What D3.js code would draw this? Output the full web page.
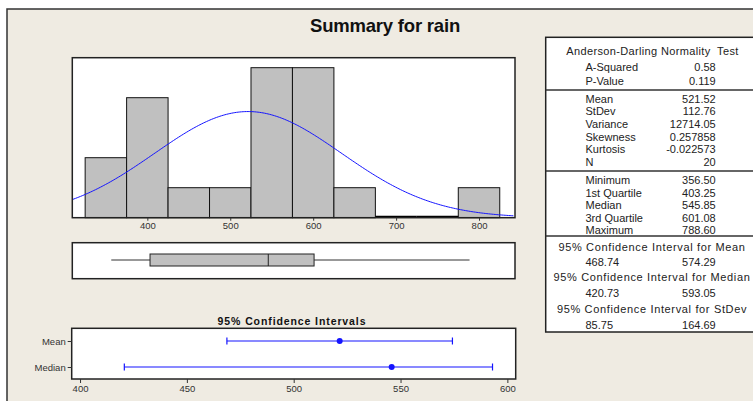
<!DOCTYPE html>
<html><head><meta charset="utf-8">
<script src="https://cdn.jsdelivr.net/npm/d3@7"></script>
<style>
html,body{margin:0;padding:0;background:#fff;}
svg{display:block;font-family:"Liberation Sans",Arial,sans-serif;}
</style></head>
<body>
<svg id="c" width="753" height="401"></svg>
<script>
// ---------- data ----------
const binEdges = [325, 375, 425, 475, 525, 575, 625, 675, 725, 775, 825];
const binCounts = [2, 4, 1, 1, 5, 5, 1, 0, 0, 1];
const histTicks = [400, 500, 600, 700, 800];
const sampleN = 20;
const sampleMean = 521.52;
const sampleStDev = 112.76;
const fiveNum = {min: 356.50, q1: 403.25, median: 545.85, q3: 601.08, max: 788.60};
const ciRows = ["Mean", "Median"];
const ciCenters = [521.52, 545.85];
const ciLower = [468.74, 420.73];
const ciUpper = [574.29, 593.05];
const ciTicks = [400, 450, 500, 550, 600];
const adLabels = ["A-Squared", "P-Value"];
const adValues = ["0.58", "0.119"];
const momentLabels = ["Mean", "StDev", "Variance", "Skewness", "Kurtosis", "N"];
const momentValues = ["521.52", "112.76", "12714.05", "0.257858", "-0.022573", "20"];
const quantLabels = ["Minimum", "1st Quartile", "Median", "3rd Quartile", "Maximum"];
const quantValues = ["356.50", "403.25", "545.85", "601.08", "788.60"];
const ciTitles = ["95% Confidence Interval for Mean", "95% Confidence Interval for Median", "95% Confidence Interval for StDev"];
const ciTableLo = ["468.74", "420.73", "85.75"];
const ciTableHi = ["574.29", "593.05", "164.69"];

// ---------- drawing ----------
const svg = d3.select("#c");
const BG = "#EFEBE2", BAR = "#C0C0C0", BLUE = "#1515FF", TXT = "#222";

svg.append("rect").attr("x", 7).attr("y", 9).attr("width", 800).attr("height", 450)
  .attr("fill", BG).attr("stroke", "#333").attr("stroke-width", 1.5);

svg.append("text").attr("x", 385).attr("y", 32).attr("text-anchor", "middle")
  .attr("font-size", 18.5).attr("font-weight", "bold").attr("fill", "#111")
  .attr("letter-spacing", -0.2).text("Summary for rain");

// Histogram
const H = {l: 72.3, r: 515, t: 57.7, b: 217.7};
const x = d3.scaleLinear().domain([309.5, 843.4]).range([H.l, H.r]);
const y = d3.scaleLinear().domain([0, 5.333]).range([H.b, H.t]);

svg.append("rect").attr("x", H.l).attr("y", H.t).attr("width", H.r - H.l).attr("height", H.b - H.t)
  .attr("fill", "#fff");

const bins = binCounts.map((c, i) => ({x0: binEdges[i], x1: binEdges[i + 1], c}));
svg.append("g").selectAll("rect").data(bins.filter(d => d.c > 0)).join("rect")
  .attr("x", d => x(d.x0)).attr("y", d => y(d.c))
  .attr("width", d => x(d.x1) - x(d.x0)).attr("height", d => y(0) - y(d.c))
  .attr("fill", BAR).attr("stroke", "#111").attr("stroke-width", 1);
svg.append("g").selectAll("line").data(bins.filter(d => d.c === 0)).join("line")
  .attr("x1", d => x(d.x0)).attr("x2", d => x(d.x1)).attr("y1", y(0) - 1).attr("y2", y(0) - 1)
  .attr("stroke", "#000").attr("stroke-width", 2);

// fitted normal curve from sample mean / stdev
const binW = binEdges[1] - binEdges[0];
const dens = v => sampleN * binW * Math.exp(-0.5 * ((v - sampleMean) / sampleStDev) ** 2) / (sampleStDev * Math.sqrt(2 * Math.PI));
const xs = d3.range(x.domain()[0], x.domain()[1] + 0.01, 2);
svg.append("path").datum(xs)
  .attr("d", d3.line().x(v => x(v)).y(v => y(dens(v))))
  .attr("fill", "none").attr("stroke", BLUE).attr("stroke-width", 1);

svg.append("rect").attr("x", H.l).attr("y", H.t).attr("width", H.r - H.l).attr("height", H.b - H.t)
  .attr("fill", "none").attr("stroke", "#222").attr("stroke-width", 1.5);

const ax = svg.append("g").attr("transform", `translate(0,${H.b})`)
  .call(d3.axisBottom(x).tickValues(histTicks).tickSize(3).tickSizeOuter(0).tickPadding(2));
ax.select(".domain").remove();
ax.selectAll("line").attr("stroke", "#333");
ax.selectAll("text").attr("font-size", 9.5).attr("fill", "#333").attr("font-family", "Liberation Sans, Arial");

// Boxplot
const B = {t: 242.7, b: 278.7, bt: 254, bb: 266};
svg.append("rect").attr("x", H.l).attr("y", B.t).attr("width", H.r - H.l).attr("height", B.b - B.t)
  .attr("fill", "#fff").attr("stroke", "#222").attr("stroke-width", 1.5);
const bc = (B.bt + B.bb) / 2;
svg.append("line").attr("x1", x(fiveNum.min)).attr("x2", x(fiveNum.q1)).attr("y1", bc).attr("y2", bc).attr("stroke", "#333");
svg.append("line").attr("x1", x(fiveNum.q3)).attr("x2", x(fiveNum.max)).attr("y1", bc).attr("y2", bc).attr("stroke", "#333");
svg.append("rect").attr("x", x(fiveNum.q1)).attr("y", B.bt).attr("width", x(fiveNum.q3) - x(fiveNum.q1))
  .attr("height", B.bb - B.bt).attr("fill", BAR).attr("stroke", "#222").attr("stroke-width", 1);
svg.append("line").attr("x1", x(fiveNum.median)).attr("x2", x(fiveNum.median)).attr("y1", B.bt).attr("y2", B.bb)
  .attr("stroke", "#222").attr("stroke-width", 1);

// CI panel
const C = {l: 71.7, r: 515.7, t: 328.3, b: 379};
const cx = d3.scaleLinear().domain([396.1, 603.9]).range([C.l, C.r]);
const cy = d3.scalePoint().domain(ciRows).range([341, 367]);
svg.append("text").attr("x", 292).attr("y", 324.5).attr("text-anchor", "middle")
  .attr("font-size", 10.5).attr("font-weight", "bold").attr("letter-spacing", 0.9).attr("fill", "#111")
  .text("95% Confidence Intervals");
svg.append("rect").attr("x", C.l).attr("y", C.t).attr("width", C.r - C.l).attr("height", C.b - C.t)
  .attr("fill", "#fff").attr("stroke", "#222").attr("stroke-width", 1.5);
const cax = svg.append("g").attr("transform", `translate(0,${C.b})`)
  .call(d3.axisBottom(cx).tickValues(ciTicks).tickSize(4).tickSizeOuter(0).tickPadding(2));
cax.select(".domain").remove();
cax.selectAll("line").attr("stroke", "#333");
cax.selectAll("text").attr("font-size", 9.5).attr("fill", "#333").attr("font-family", "Liberation Sans, Arial");
const cay = svg.append("g").attr("transform", `translate(${C.l},0)`)
  .call(d3.axisLeft(cy).tickSize(4).tickSizeOuter(0).tickPadding(2));
cay.select(".domain").remove();
cay.selectAll("line").attr("stroke", "#333");
cay.selectAll("text").attr("font-size", 9.5).attr("fill", "#333").attr("font-family", "Liberation Sans, Arial");

const ci = ciRows.map((r, i) => ({r, c: ciCenters[i], lo: ciLower[i], hi: ciUpper[i]}));
const cg = svg.append("g").selectAll("g").data(ci).join("g");
cg.append("line").attr("x1", d => cx(d.lo)).attr("x2", d => cx(d.hi)).attr("y1", d => cy(d.r)).attr("y2", d => cy(d.r))
  .attr("stroke", BLUE).attr("stroke-width", 1.2);
cg.append("line").attr("x1", d => cx(d.lo)).attr("x2", d => cx(d.lo)).attr("y1", d => cy(d.r) - 3.5).attr("y2", d => cy(d.r) + 3.5)
  .attr("stroke", BLUE).attr("stroke-width", 1.2);
cg.append("line").attr("x1", d => cx(d.hi)).attr("x2", d => cx(d.hi)).attr("y1", d => cy(d.r) - 3.5).attr("y2", d => cy(d.r) + 3.5)
  .attr("stroke", BLUE).attr("stroke-width", 1.2);
cg.append("circle").attr("cx", d => cx(d.c)).attr("cy", d => cy(d.r)).attr("r", 3).attr("fill", BLUE);

// Stats panel
const P = {l: 545.7, t: 37.3, b: 332};
svg.append("rect").attr("x", P.l).attr("y", P.t).attr("width", 300).attr("height", P.b - P.t)
  .attr("fill", "#fff").attr("stroke", "#222").attr("stroke-width", 1.5);
const sepY = [90, 171, 236];
svg.append("g").selectAll("line").data(sepY).join("line")
  .attr("x1", P.l).attr("x2", 760).attr("y1", d => d).attr("y2", d => d)
  .attr("stroke", "#333").attr("stroke-width", 1.5);

const FS = 11;
const labX = 585.5, valX = 715.7;
const tg = svg.append("g").attr("font-size", FS).attr("fill", TXT);
tg.append("text").attr("x", 652.5).attr("y", 54.5).attr("text-anchor", "middle").attr("letter-spacing", 0.35)
  .attr("xml:space", "preserve").text("Anderson-Darling Normality  Test");
function rows(labels, values, ys) {
  labels.forEach((l, i) => {
    tg.append("text").attr("x", labX).attr("y", ys[i] + 4).text(l);
    tg.append("text").attr("x", valX).attr("y", ys[i] + 4).attr("text-anchor", "end").text(values[i]);
  });
}
rows(adLabels, adValues, [66.7, 80.7]);
rows(momentLabels, momentValues, [99, 111, 123.5, 136.5, 149, 162]);
rows(quantLabels, quantValues, [179.5, 192.5, 205, 218, 230]);
const ciTitleY = [247.3, 277.3, 309];
const ciValY = [262, 293.3, 325.3];
ciTitles.forEach((t, i) => {
  tg.append("text").attr("x", 652).attr("y", ciTitleY[i] + 4).attr("text-anchor", "middle").attr("letter-spacing", 0.65).text(t);
  tg.append("text").attr("x", labX).attr("y", ciValY[i] + 4).text(ciTableLo[i]);
  tg.append("text").attr("x", valX).attr("y", ciValY[i] + 4).attr("text-anchor", "end").text(ciTableHi[i]);
});
</script>
</body></html>
